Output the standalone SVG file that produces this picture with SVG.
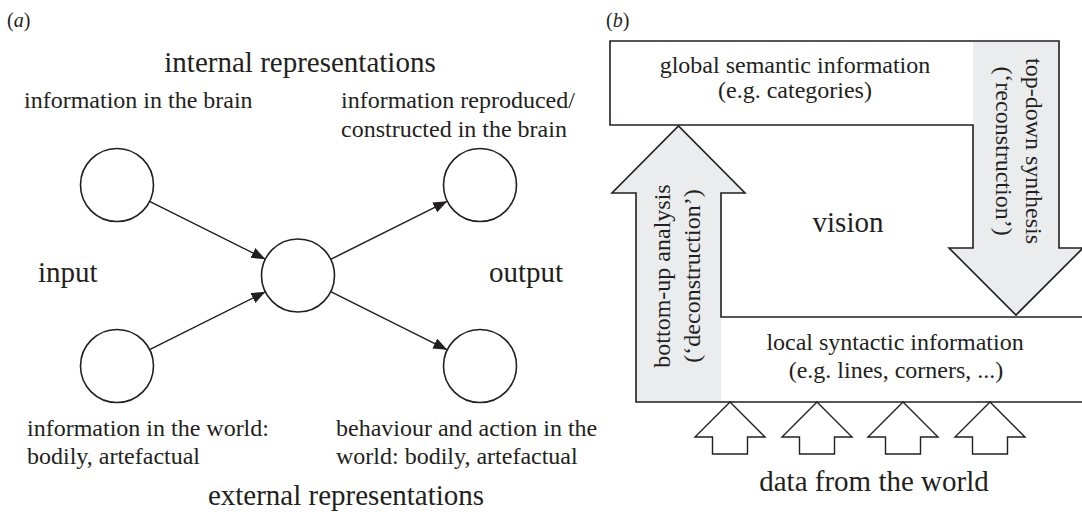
<svg xmlns="http://www.w3.org/2000/svg" width="1082" height="512" viewBox="0 0 1082 512">
<style>
text{font-family:"Liberation Serif","Times New Roman",serif;fill:#231f20}
.big{font-size:29px}
.lab{font-size:24px}
.pl{font-size:20px}
.node{fill:#fff;stroke:#231f20;stroke-width:1.6}
.edge{stroke:#231f20;stroke-width:1.5;fill:none;marker-end:url(#ah)}
.gray{fill:#ebecee}
.out{fill:none;stroke:#231f20;stroke-width:1.6}
.small{fill:#fff;stroke:#231f20;stroke-width:1.4}
</style>
<defs>
<marker id="ah" markerUnits="userSpaceOnUse" markerWidth="15" markerHeight="12" refX="14" refY="5.5" orient="auto">
<path d="M0,0 L14,5.5 L0,11 Z" fill="#231f20"/>
</marker>
<path id="sa" d="M0,0 L35,35 H17.5 V52 H-17.5 V35 H-35 Z"/>
</defs>
<rect width="1082" height="512" fill="#fff"/>

<!-- panel a -->
<text class="pl" x="7" y="27">(<tspan font-style="italic">a</tspan>)</text>
<text class="big" x="300" y="72" text-anchor="middle">internal representations</text>
<text class="big" x="346" y="505" text-anchor="middle">external representations</text>
<text class="big" x="38" y="282">input</text>
<text class="big" x="489" y="282">output</text>

<g id="connectors">
<line class="edge" x1="149.6" y1="201.3" x2="265.4" y2="259.2"/>
<line class="edge" x1="149.6" y1="349.7" x2="265.4" y2="291.8"/>
<line class="edge" x1="330.7" y1="259.3" x2="447.3" y2="201.2"/>
<line class="edge" x1="330.7" y1="291.7" x2="447.3" y2="349.8"/>
</g>

<g id="node-brain-in">
<circle class="node" cx="117" cy="185" r="36.5"/>
<text class="lab" x="24" y="108">information in the brain</text>
</g>
<g id="node-world-in">
<circle class="node" cx="117" cy="366" r="36.5"/>
<text class="lab" x="27" y="436">information in the world:</text>
<text class="lab" x="27" y="464">bodily, artefactual</text>
</g>
<g id="node-center">
<circle class="node" cx="298" cy="275.5" r="36.5"/>
</g>
<g id="node-brain-out">
<circle class="node" cx="480" cy="185" r="36.5"/>
<text class="lab" x="341" y="108">information reproduced/</text>
<text class="lab" x="341" y="137">constructed in the brain</text>
</g>
<g id="node-world-out">
<circle class="node" cx="480" cy="366" r="36.5"/>
<text class="lab" x="336" y="436">behaviour and action in the</text>
<text class="lab" x="336" y="464">world: bodily, artefactual</text>
</g>

<!-- panel b -->
<text class="pl" x="606" y="27">(<tspan font-style="italic">b</tspan>)</text>
<g id="node-global">
<rect x="610" y="41" width="363" height="84" fill="#fff"/>
<text class="lab" x="795" y="73" text-anchor="middle">global semantic information</text>
<text class="lab" x="795" y="98" text-anchor="middle">(e.g. categories)</text>
</g>
<g id="node-topdown">
<path class="gray" d="M973,41 H1059 V248 H1083 L1016,315 L949,248 H973 Z"/>
<path class="out" d="M610,41 H1059 V248 H1083 L1016,315 L949,248 H973 V125 H610 Z"/>
<text class="lab" transform="translate(1026,151) rotate(90)" text-anchor="middle">top-down synthesis</text>
<text class="lab" transform="translate(996,151) rotate(90)" text-anchor="middle">(‘reconstruction’)</text>
</g>
<g id="node-local">
<rect x="721" y="317" width="362" height="85" fill="#fff"/>
<text class="lab" x="895" y="350" text-anchor="middle">local syntactic information</text>
<text class="lab" x="896" y="378" text-anchor="middle">(e.g. lines, corners, ...)</text>
</g>
<g id="node-bottomup">
<path class="gray" d="M636,402 V193 H612 L678.5,126 L745,193 H721 V402 Z"/>
<path class="out" d="M1083,317 H721 V193 H745 L678.5,126 L612,193 H636 V402 H1083"/>
<text class="lab" transform="translate(670,276) rotate(-90)" text-anchor="middle">bottom-up analysis</text>
<text class="lab" transform="translate(700,276) rotate(-90)" text-anchor="middle">(‘deconstruction’)</text>
</g>
<text class="big" x="848" y="232" text-anchor="middle">vision</text>
<g id="node-data">
<use href="#sa" class="small" x="730" y="402"/>
<use href="#sa" class="small" x="817" y="402"/>
<use href="#sa" class="small" x="903" y="402"/>
<use href="#sa" class="small" x="990" y="402"/>
<text class="big" x="874" y="491" text-anchor="middle">data from the world</text>
</g>
</svg>
